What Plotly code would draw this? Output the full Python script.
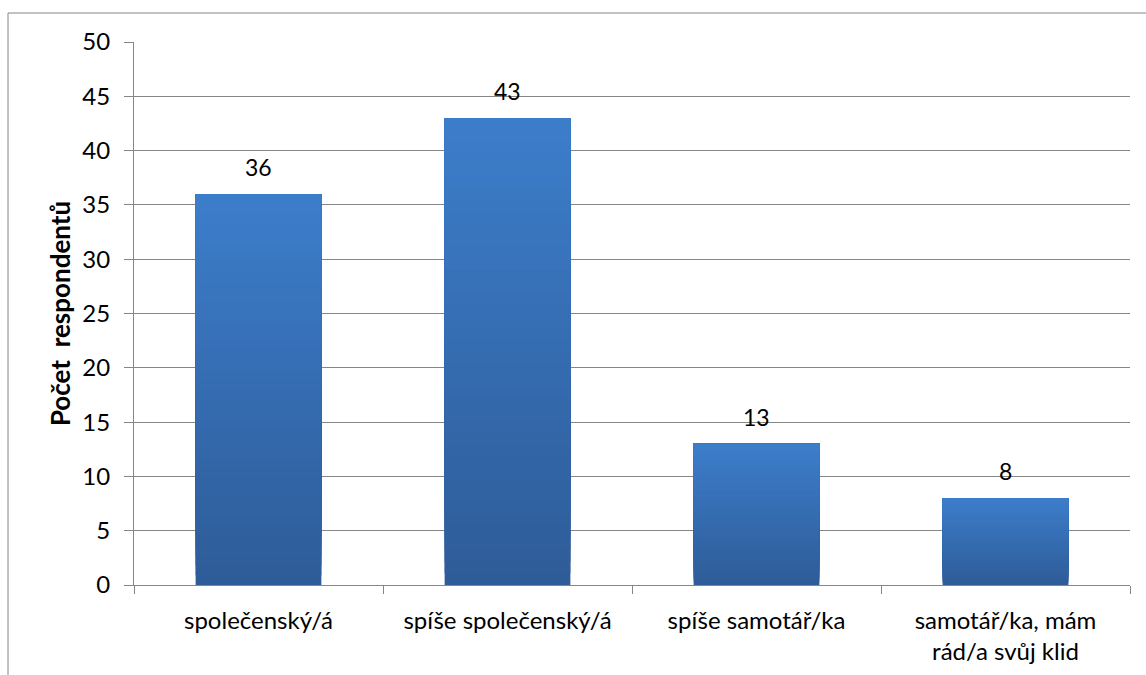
import plotly.graph_objects as go

categories = ["společenský/á", "spíše společenský/á", "spíše samotář/ka",
              "samotář/ka, mám<br>rád/a svůj klid"]
values = [36, 43, 13, 8]
y_ticks = [0, 5, 10, 15, 20, 25, 30, 35, 40, 45, 50]

FONT = "Lato, 'Open Sans', sans-serif"
TOP = (0x3C, 0x7D, 0xCA)
BOTTOM = (0x2E, 0x5C, 0x98)
STEPS = 40

fig = go.Figure()

# vertical gradient: each layer covers [value*k/STEPS, value], lighter layers on top
for k in range(STEPS):
    t = k / (STEPS - 1)
    r, g, b = (round(BOTTOM[i] + (TOP[i] - BOTTOM[i]) * t) for i in range(3))
    fig.add_trace(go.Bar(
        x=categories,
        y=[v * (1 - k / STEPS) for v in values],
        base=[v * k / STEPS for v in values],
        marker=dict(color=f"rgb({r},{g},{b})", line=dict(width=0)),
        width=0.505, hoverinfo="skip", showlegend=False,
    ))

# value labels above each bar
annotations = [
    dict(x=c, y=v, xref="x", yref="y", text=str(v), showarrow=False,
         yshift=27, font=dict(family=FONT, size=23, color="#000000"))
    for c, v in zip(categories, values)
]

W, H = 1146, 675
L, R, T, B = 134, 16, 42, 90
pw, ph = W - L - R, H - T - B

def px_x(p):
    return (p - L) / pw

def px_y(p):
    return (H - B - p) / ph

fig.update_layout(
    width=W, height=H,
    margin=dict(l=L, r=R, t=T, b=B),
    paper_bgcolor="white", plot_bgcolor="white",
    barmode="overlay",
    font=dict(family=FONT, size=23, color="#000000"),
    annotations=annotations,
    xaxis=dict(
        type="category", tickson="boundaries", ticks="outside", ticklen=8,
        tickcolor="#868686", tickwidth=1, automargin=False,
        showline=True, linecolor="#868686", linewidth=1,
        showgrid=False, tickfont=dict(family=FONT, size=24),
        ticklabelstandoff=14,
    ),
    yaxis=dict(
        range=[0, 50], tickvals=y_ticks, ticks="outside", ticklen=9,
        tickcolor="#868686", tickwidth=1, automargin=False,
        showline=True, linecolor="#868686", linewidth=1,
        showgrid=True, gridcolor="#868686", gridwidth=1,
        zeroline=False, tickfont=dict(family=FONT, size=24),
        ticklabelstandoff=9,
        title=dict(text="<b>Počet  respondentů</b>", standoff=4,
                   font=dict(family=FONT, size=26)),
    ),
    shapes=[
        dict(type="line", xref="paper", yref="paper",
             x0=px_x(8), x1=px_x(W + 2), y0=px_y(13), y1=px_y(13),
             line=dict(color="#868686", width=1)),
        dict(type="line", xref="paper", yref="paper",
             x0=px_x(8), x1=px_x(8), y0=px_y(13), y1=px_y(H + 2),
             line=dict(color="#868686", width=1)),
    ],
)

fig.write_html("out.html")
